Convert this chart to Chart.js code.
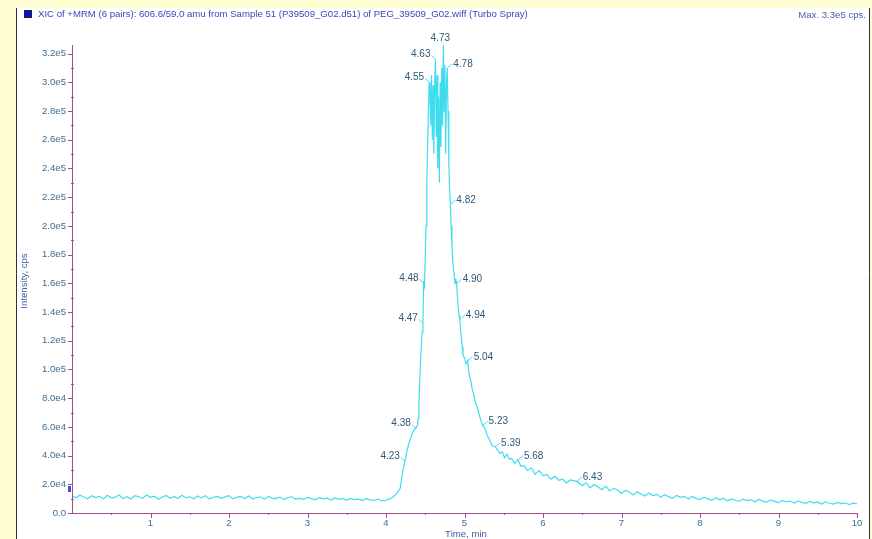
<!DOCTYPE html>
<html>
<head>
<meta charset="utf-8">
<script src="https://cdn.jsdelivr.net/npm/chart.js@4.4.1/dist/chart.umd.min.js"></script>
<style>
html,body{margin:0;padding:0;background:#fffdd2;}
#wrap{position:absolute;left:0;top:0;width:872px;height:539px;}
</style>
</head>
<body>
<div id="wrap"><canvas id="c" width="872" height="539"></canvas></div>
<script>
// ---- data ----
const titleText = "XIC of +MRM (6 pairs): 606.6/59.0 amu from Sample 51 (P39509_G02.d51) of PEG_39509_G02.wiff (Turbo Spray)";
const maxText = "Max. 3.3e5 cps.";
const xTitle = "Time, min";
const yTitle = "Intensity, cps";

const times = [
0.00,0.05,0.10,0.15,0.20,0.25,0.30,0.35,0.40,0.45,0.50,0.55,0.60,0.65,0.70,0.75,0.80,0.85,0.90,0.95,
1.00,1.05,1.10,1.15,1.20,1.25,1.30,1.35,1.40,1.45,1.50,1.55,1.60,1.65,1.70,1.75,1.80,1.85,1.90,1.95,
2.00,2.05,2.10,2.15,2.20,2.25,2.30,2.35,2.40,2.45,2.50,2.55,2.60,2.65,2.70,2.75,2.80,2.85,2.90,2.95,
3.00,3.05,3.10,3.15,3.20,3.25,3.30,3.35,3.40,3.45,3.50,3.55,3.60,3.65,3.70,3.75,3.80,3.85,3.90,3.95,
4.00,4.05,4.10,4.14,4.18,4.20,4.22,4.24,4.26,4.28,4.30,4.32,4.34,4.36,4.38,4.40,4.41,4.42,4.43,4.44,
4.45,4.46,4.47,4.48,4.49,4.50,4.51,4.52,4.53,4.54,4.55,4.56,4.57,4.58,4.59,4.60,4.61,4.62,4.63,4.64,
4.65,4.66,4.67,4.68,4.69,4.70,4.71,4.72,4.73,4.74,4.75,4.76,4.77,4.78,4.79,4.80,4.81,4.82,4.83,4.84,
4.85,4.86,4.87,4.88,4.89,4.90,4.91,4.92,4.93,4.94,4.95,4.96,4.97,4.98,5.00,5.02,5.04,5.06,5.08,5.10,
5.12,5.14,5.16,5.18,5.20,5.23,5.26,5.29,5.32,5.35,5.39,5.42,5.45,5.48,5.51,5.54,5.57,5.60,5.64,5.68,
5.72,5.76,5.80,5.85,5.90,5.95,6.00,6.05,6.10,6.15,6.20,6.25,6.30,6.35,6.43,6.50,6.55,6.60,6.65,6.70,
6.75,6.80,6.85,6.90,6.95,7.00,7.05,7.10,7.15,7.20,7.25,7.30,7.35,7.40,7.45,7.50,7.55,7.60,7.65,7.70,
7.75,7.80,7.85,7.90,7.95,8.00,8.05,8.10,8.15,8.20,8.25,8.30,8.35,8.40,8.45,8.50,8.55,8.60,8.65,8.70,
8.75,8.80,8.85,8.90,8.95,9.00,9.05,9.10,9.15,9.20,9.25,9.30,9.35,9.40,9.45,9.50,9.55,9.60,9.65,9.70,
9.75,9.80,9.85,9.90,9.95,10.00
];
const intensity = [
11800,10600,12400,11200,9900,12100,10800,11600,9700,12300,10400,11000,12600,10100,11400,9800,12000,11300,10200,12500,
10900,11700,9600,11100,12200,10300,11500,10000,12400,10700,11300,9900,11800,10500,12100,9700,11000,11600,10200,11200,
12000,9800,10900,11500,10100,11800,9900,10600,11300,9500,11600,10300,10000,11100,9400,10800,11300,9700,10400,9300,
10900,10000,9200,10700,9800,10300,9000,10500,9500,10100,8800,10200,9300,9700,8600,10000,9100,8700,9600,8400,
8900,9800,11500,14000,17000,24000,31000,36000,41000,46000,50000,53000,56000,58000,59000,61000,66000,78000,92000,105000,
116000,126000,132000,160000,158000,178000,200000,230000,255000,280000,300000,292000,270000,305000,260000,298000,250000,300000,316000,262000,
305000,240000,290000,230000,300000,255000,310000,270000,326000,280000,312000,250000,300000,310000,280000,245000,225000,215000,200000,186000,
176000,170000,165000,160000,163000,160000,150000,143000,138000,135000,128000,122000,116000,110000,108000,104000,106000,96000,92000,86000,
82000,77000,74000,70000,66000,61000,59000,54000,51000,47000,46000,44000,41500,42500,38500,41000,37500,38000,34500,37000,
32500,33000,29500,31500,27000,29500,26000,26800,23500,25500,22800,23500,21000,23000,22000,19000,21000,17500,19800,18200,
16200,18800,15400,17200,16000,13600,15800,14400,12600,14900,13300,11800,14000,12200,13000,10900,12800,11400,10300,12300,
10900,11600,9700,11500,10200,9400,11000,9900,8800,10500,9300,10100,8500,9800,8900,8200,9700,8600,9200,7800,
9400,8300,7600,9000,8100,7200,8800,7700,8300,6900,8400,7400,6700,8100,7100,7600,6300,7800,6800,6200,
7400,6500,7100,5900,6900,6300
];
const peakLabels = ["4.23","4.38","4.47","4.48","4.55","4.63","4.73","4.78","4.82","4.90","4.94","5.04","5.23","5.39","5.68","6.43"];
const yTickValues = [0,20000,40000,60000,80000,100000,120000,140000,160000,180000,200000,220000,240000,260000,280000,300000,320000];
const xTickValues = [1,2,3,4,5,6,7,8,9,10];

// ---- styles ----
const TRACE = '#3fdcef';
const AXIS = '#9a4f8f';
const TICKTXT = '#3b6f98';
const PEAKTXT = '#2d5878';
const FONT = '"Liberation Sans", Arial, sans-serif';

const points = times.map((t, i) => ({x: t, y: intensity[i]}));

function fmtY(v) {
  if (v === 0) return '0.0';
  return v.toExponential(1).replace('e+', 'e');
}

const decor = {
  id: 'decor',
  beforeDraw(chart) {
    const ctx = chart.ctx;
    ctx.save();
    ctx.fillStyle = '#fffdd2';
    ctx.fillRect(0, 0, 872, 539);
    ctx.fillStyle = '#ffffff';
    ctx.fillRect(17, 8, 852, 531);
    ctx.strokeStyle = '#3a2a4a';
    ctx.lineWidth = 1;
    ctx.beginPath();
    ctx.moveTo(16.5, 8); ctx.lineTo(16.5, 539);
    ctx.moveTo(869.5, 8); ctx.lineTo(869.5, 539);
    ctx.stroke();
    ctx.restore();
  },
  afterDraw(chart) {
    const ctx = chart.ctx;
    const xs = chart.scales.x, ys = chart.scales.y;
    const a = chart.chartArea;
    ctx.save();
    // axes
    ctx.strokeStyle = AXIS;
    ctx.lineWidth = 1;
    ctx.beginPath();
    ctx.moveTo(a.left + 0.5, a.top); ctx.lineTo(a.left + 0.5, a.bottom + 0.5);
    ctx.lineTo(a.right + 0.5, a.bottom + 0.5);
    ctx.stroke();
    // y ticks
    ctx.beginPath();
    for (let v = 0; v <= 320000; v += 10000) {
      const y = Math.round(ys.getPixelForValue(v)) + 0.5;
      const major = (v % 20000 === 0);
      ctx.moveTo(a.left - (major ? 4 : 1), y);
      ctx.lineTo(a.left + (major ? 1 : 2), y);
    }
    // x ticks
    for (let t = 0.5; t <= 10.001; t += 0.5) {
      const x = Math.round(xs.getPixelForValue(t)) + 0.5;
      const major = Math.abs(t - Math.round(t)) < 1e-6;
      ctx.moveTo(x, a.bottom);
      ctx.lineTo(x, a.bottom + (major ? 5 : 2));
    }
    ctx.stroke();
    // small start marker
    ctx.fillStyle = '#3a50d0';
    ctx.fillRect(68, 486, 3, 6);

    // title
    ctx.fillStyle = '#0a10c8';
    ctx.fillRect(24, 10, 8, 8);
    ctx.strokeStyle = '#202040';
    ctx.strokeRect(24.5, 10.5, 7, 7);
    ctx.font = '9.6px ' + FONT;
    ctx.textBaseline = 'middle';
    ctx.fillStyle = '#3e46b4';
    ctx.textAlign = 'left';
    ctx.fillText(titleText, 38, 14.5);
    ctx.fillStyle = '#4a64a8';
    ctx.textAlign = 'right';
    ctx.fillText(maxText, 866, 15);
    // axis titles
    ctx.fillStyle = '#3e5aa8';
    ctx.textAlign = 'center';
    ctx.fillText(xTitle, 466, 534);
    ctx.save();
    ctx.translate(24, 281);
    ctx.rotate(-Math.PI / 2);
    ctx.fillText(yTitle, 0, 0);
    ctx.restore();

    // peak labels
    ctx.font = '10px ' + FONT;
    peakLabels.forEach(lbl => {
      const t = parseFloat(lbl);
      let best = 0;
      for (let i = 1; i < times.length; i++) {
        if (Math.abs(times[i] - t) < Math.abs(times[best] - t)) best = i;
      }
      const px = xs.getPixelForValue(times[best]);
      const py = ys.getPixelForValue(intensity[best]);
      ctx.strokeStyle = TRACE;
      ctx.fillStyle = PEAKTXT;
      ctx.beginPath();
      if (t === 4.73) {
        ctx.textAlign = 'center';
        ctx.textBaseline = 'bottom';
        ctx.fillText(lbl, px - 3, py - 2);
      } else if (t < 4.7) {
        ctx.moveTo(px, py); ctx.lineTo(px - 4, py - 4);
        ctx.stroke();
        ctx.textAlign = 'right';
        ctx.textBaseline = 'middle';
        ctx.fillText(lbl, px - 5, py - 5);
      } else {
        ctx.moveTo(px, py); ctx.lineTo(px + 5, py - 4);
        ctx.stroke();
        ctx.textAlign = 'left';
        ctx.textBaseline = 'middle';
        ctx.fillText(lbl, px + 6, py - 4);
      }
    });
    ctx.restore();
  }
};

new Chart(document.getElementById('c'), {
  type: 'line',
  data: {
    datasets: [{
      data: points,
      borderColor: TRACE,
      borderWidth: 1.2,
      pointRadius: 0,
      tension: 0,
      fill: false
    }]
  },
  options: {
    responsive: false,
    animation: false,
    events: [],
    layout: {padding: {left: 0, top: 45, right: 15, bottom: 0}},
    plugins: {legend: {display: false}, tooltip: {enabled: false}},
    scales: {
      x: {
        type: 'linear', min: 0, max: 10,
        grid: {display: false, drawTicks: false}, border: {display: false},
        afterFit(s) { s.height = 26; },
        afterBuildTicks(s) { s.ticks = xTickValues.map(v => ({value: v})); },
        ticks: {
          padding: 5, maxRotation: 0, autoSkip: false,
          color: TICKTXT, font: {family: FONT, size: 9.6},
          callback: v => String(v)
        }
      },
      y: {
        type: 'linear', min: 0, max: 326000,
        grid: {display: false, drawTicks: false}, border: {display: false},
        afterFit(s) { s.width = 72; },
        afterBuildTicks(s) { s.ticks = yTickValues.map(v => ({value: v})); },
        ticks: {
          padding: 6, autoSkip: false,
          color: TICKTXT, font: {family: FONT, size: 9.6},
          callback: v => fmtY(v)
        }
      }
    }
  },
  plugins: [decor]
});
</script>
</body>
</html>
